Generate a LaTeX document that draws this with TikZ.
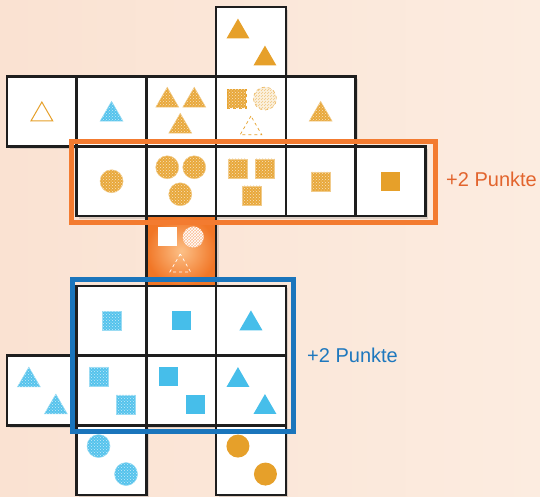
\documentclass[tikz,border=0pt]{standalone}
\usepackage{fontspec}
\setmainfont{Liberation Sans}
\usetikzlibrary{shapes.geometric,patterns,shadows,calc}

\definecolor{bgpeach}{RGB}{250,226,210}
\definecolor{bglight}{RGB}{252,236,224}
\definecolor{gold}{RGB}{230,160,42}
\definecolor{sky}{RGB}{70,190,234}
\definecolor{framered}{RGB}{243,123,48}
\definecolor{frameblue}{RGB}{26,117,188}
\definecolor{txtred}{RGB}{226,100,45}
\definecolor{txtblue}{RGB}{30,120,190}
\definecolor{tileline}{RGB}{30,30,30}

\tikzset{
  tile/.style={draw=tileline, line width=2.6pt, fill=white, minimum size=69.7pt, inner sep=0pt,
    drop shadow={shadow xshift=2.5pt, shadow yshift=-2.5pt, opacity=0.25}},
  hottile/.style={tile, inner color={rgb,255:red,252;green,192;blue,135}, outer color={rgb,255:red,241;green,118;blue,38}},
  tri/.style={regular polygon, regular polygon sides=3, minimum size=26.5pt, inner sep=0pt},
  sq/.style={rectangle, minimum size=19pt, inner sep=0pt},
  rnd/.style={circle, minimum size=23pt, inner sep=0pt},
  full/.style={fill=#1},
  dotty/.style={fill=#1!92!white, draw=#1!55!white, line width=0.5pt,
    postaction={pattern=crosshatch dots, pattern color=white!70!#1}},
  frame/.style={draw=#1, line width=5pt}
}

\begin{document}
\begin{tikzpicture}[x=1pt,y=-1pt]
  \useasboundingbox (0,0) rectangle (540,496);
  \shade[left color=bgpeach, right color=bglight] (0,0) rectangle (540,496);

  % tiles, row by row
  \node[tile] (t) at (250.95,41.85) {};

  \node[tile] (a1) at (41.85,111.55) {};
  \node[tile] (a2) at (111.55,111.55) {};
  \node[tile] (a3) at (181.25,111.55) {};
  \node[tile] (a4) at (250.95,111.55) {};
  \node[tile] (a5) at (320.65,111.55) {};

  \node[tile] (b2) at (111.55,181.25) {};
  \node[tile] (b3) at (181.25,181.25) {};
  \node[tile] (b4) at (250.95,181.25) {};
  \node[tile] (b5) at (320.65,181.25) {};
  \node[tile] (b6) at (390.35,181.25) {};

  \node[hottile] (o) at (181.25,250.95) {};

  \node[tile] (u2) at (111.55,320.65) {};
  \node[tile] (u3) at (181.25,320.65) {};
  \node[tile] (u4) at (250.95,320.65) {};

  \node[tile] (v1) at (41.85,390.35) {};
  \node[tile] (v2) at (111.55,390.35) {};
  \node[tile] (v3) at (181.25,390.35) {};
  \node[tile] (v4) at (250.95,390.35) {};

  \node[tile] (w2) at (111.55,460.05) {};
  \node[tile] (w4) at (250.95,460.05) {};

  % symbols
  \node[tri, full=gold] (t-a) at ($(t)+(-13,-10)$) {};
  \node[tri, full=gold] (t-b) at ($(t)+(14,17)$) {};

  \node[tri, draw=gold, line width=1pt, fill=white, minimum size=25pt] (a1-a) at ($(a1)+(0,3)$) {};
  \node[tri, dotty=sky] (a2-a) at ($(a2)+(0,3)$) {};
  \node[tri, dotty=gold] (a3-a) at ($(a3)+(-14,-11)$) {};
  \node[tri, dotty=gold] (a3-b) at ($(a3)+(13,-11)$) {};
  \node[tri, dotty=gold] (a3-c) at ($(a3)+(-1,15)$) {};
  \node[sq, dotty=gold, draw=gold, dashed] (a4-a) at ($(a4)+(-14,-13)$) {};
  \node[rnd, fill=gold!15, draw=gold!80, dashed, line width=0.6pt,
    postaction={pattern=north east lines, pattern color=gold!60}] (a4-b) at ($(a4)+(14,-13)$) {};
  \node[tri, draw=gold, dashed, line width=0.7pt, fill=white, minimum size=25pt] (a4-c) at ($(a4)+(0,17)$) {};
  \node[tri, dotty=gold] (a5-a) at ($(a5)+(0,3)$) {};

  \node[rnd, dotty=gold] (b2-a) at (b2) {};
  \node[rnd, dotty=gold] (b3-a) at ($(b3)+(-14,-14)$) {};
  \node[rnd, dotty=gold] (b3-b) at ($(b3)+(13,-14)$) {};
  \node[rnd, dotty=gold] (b3-c) at ($(b3)+(-1,13)$) {};
  \node[sq, dotty=gold] (b4-a) at ($(b4)+(-13.5,-13)$) {};
  \node[sq, dotty=gold] (b4-b) at ($(b4)+(14,-13)$) {};
  \node[sq, dotty=gold] (b4-c) at ($(b4)+(0.5,14)$) {};
  \node[sq, dotty=gold] (b5-a) at (b5) {};
  \node[sq, full=gold] (b6-a) at (b6) {};

  \node[sq, fill=white] (o-a) at ($(o)+(-14,-14)$) {};
  \node[rnd, minimum size=21pt, fill={rgb,255:red,250;green,190;blue,150},
    postaction={pattern=crosshatch, pattern color=white}] (o-b) at ($(o)+(12,-14)$) {};
  \node[tri, draw=white, dashed, line width=0.7pt, minimum size=24pt] (o-c) at ($(o)+(-1,15)$) {};

  \node[sq, dotty=sky] (u2-a) at (u2) {};
  \node[sq, full=sky] (u3-a) at (u3) {};
  \node[tri, full=sky] (u4-a) at ($(u4)+(0,3)$) {};

  \node[tri, dotty=sky] (v1-a) at ($(v1)+(-13,-10)$) {};
  \node[tri, dotty=sky] (v1-b) at ($(v1)+(14,17)$) {};
  \node[sq, dotty=sky] (v2-a) at ($(v2)+(-13,-14)$) {};
  \node[sq, dotty=sky] (v2-b) at ($(v2)+(14,14)$) {};
  \node[sq, full=sky] (v3-a) at ($(v3)+(-13,-14)$) {};
  \node[sq, full=sky] (v3-b) at ($(v3)+(14,14)$) {};
  \node[tri, full=sky] (v4-a) at ($(v4)+(-13,-10)$) {};
  \node[tri, full=sky] (v4-b) at ($(v4)+(14,17)$) {};

  \node[rnd, dotty=sky] (w2-a) at ($(w2)+(-13,-14)$) {};
  \node[rnd, dotty=sky] (w2-b) at ($(w2)+(14.5,14)$) {};
  \node[rnd, full=gold] (w4-a) at ($(w4)+(-13,-14)$) {};
  \node[rnd, full=gold] (w4-b) at ($(w4)+(14.5,14)$) {};

  % frames and scores
  \draw[frame=framered] ($(b2.north west)+(-4.2,-3.9)$) rectangle ($(b6.south east)+(9.3,5.4)$);
  \draw[frame=frameblue] ($(u2.north west)+(-3.3,-5.5)$) rectangle ($(v4.south east)+(6.7,5.3)$);

  \node[anchor=west, text=txtred, font=\fontsize{20}{24}\selectfont, inner sep=0pt] (scoreA) at (446,179) {+2 Punkte};
  \node[anchor=west, text=txtblue, font=\fontsize{20}{24}\selectfont, inner sep=0pt] (scoreB) at (307,355) {+2 Punkte};
\end{tikzpicture}
\end{document}
